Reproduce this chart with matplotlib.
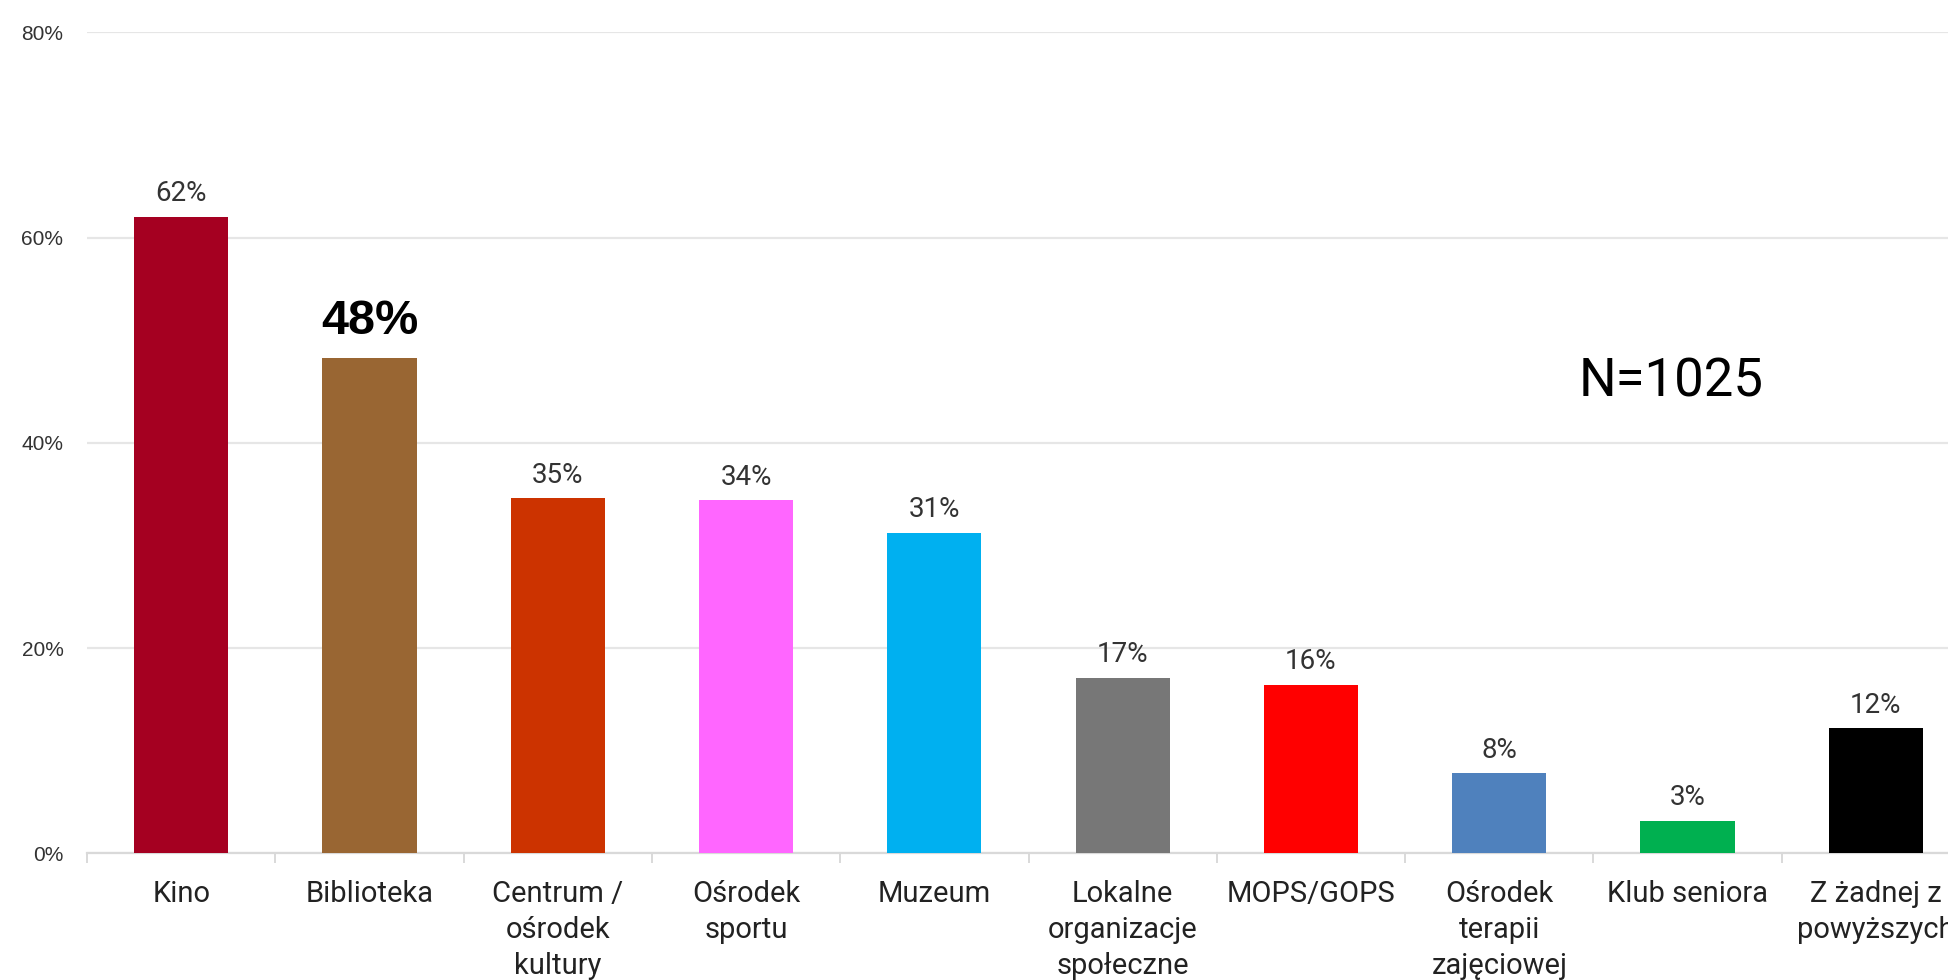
import numpy as np
import matplotlib
matplotlib.use("Agg")
import matplotlib.pyplot as plt
from matplotlib.ticker import FixedLocator, FuncFormatter

# ---- data ----
categories = ["Kino", "Biblioteka", "Centrum /\nośrodek\nkultury", "Ośrodek\nsportu",
              "Muzeum", "Lokalne\norganizacje\nspołeczne", "MOPS/GOPS",
              "Ośrodek\nterapii\nzajęciowej", "Klub seniora", "Z żadnej z\npowyższych"]
values = [62.0, 48.3, 34.6, 34.4, 31.2, 17.1, 16.4, 7.8, 3.2, 12.2]
value_labels = ["62%", "48%", "35%", "34%", "31%", "17%", "16%", "8%", "3%", "12%"]
colors = ["#A50021", "#996633", "#CC3300", "#FF66FF", "#00B0F0",
          "#777777", "#FF0000", "#4F81BD", "#00B050", "#000000"]
highlight = 1            # Biblioteka label drawn bold/large
yticks = [0, 20, 40, 60, 80]
note = "N=1025"

plt.rcParams["font.family"] = ["Roboto", "DejaVu Sans"]

fig = plt.figure(figsize=(19.48, 9.8), dpi=100)
ax = fig.add_axes([0.0447, 0.1291, 0.9666, 0.838])

x = np.arange(len(categories))
ax.bar(x, values, width=0.5, color=colors, zorder=3)

ax.set_xlim(-0.5, len(categories) - 0.5)
ax.set_ylim(0, 80)

# grid + y labels
ax.set_yticks(yticks)
ax.yaxis.set_major_formatter(FuncFormatter(lambda v, p: f"{v:.0f}%"))
ax.grid(axis="y", color="#e6e6e6", lw=1.6, zorder=0)
ax.tick_params(axis="y", length=0, pad=17, labelsize=15, labelcolor="#333333")
for lab in ax.get_yticklabels():
    lab.set_fontfamily(["Liberation Sans", "DejaVu Sans"])

# x labels centred under bars, separators ticks between categories
ax.set_xticks(x)
ax.set_xticklabels(categories, fontsize=21, color="#222222", linespacing=1.36, va="top")
ax.tick_params(axis="x", which="major", length=0, pad=19)
ax.xaxis.set_minor_locator(FixedLocator(np.arange(-0.5, len(categories), 1.0)))
ax.tick_params(axis="x", which="minor", length=7, width=1.4, color="#d9d9d9")

for s in ["top", "right", "left"]:
    ax.spines[s].set_visible(False)
ax.spines["bottom"].set_color("#d9d9d9")
ax.spines["bottom"].set_linewidth(1.6)

# value labels
for i, (v, t) in enumerate(zip(values, value_labels)):
    if i == highlight:
        ax.annotate(t, (x[i], v), xytext=(0, 10), textcoords="offset points",
                    ha="center", va="bottom", fontsize=35, fontweight="bold",
                    color="black", family=["Liberation Sans", "DejaVu Sans"])
    else:
        ax.annotate(t, (x[i], v), xytext=(0, 7), textcoords="offset points",
                    ha="center", va="bottom", fontsize=20, color="#333333")

ax.text(7.91, 45.9, note, ha="center", va="center", fontsize=38, color="black")

fig.savefig("out.png", dpi=100)
